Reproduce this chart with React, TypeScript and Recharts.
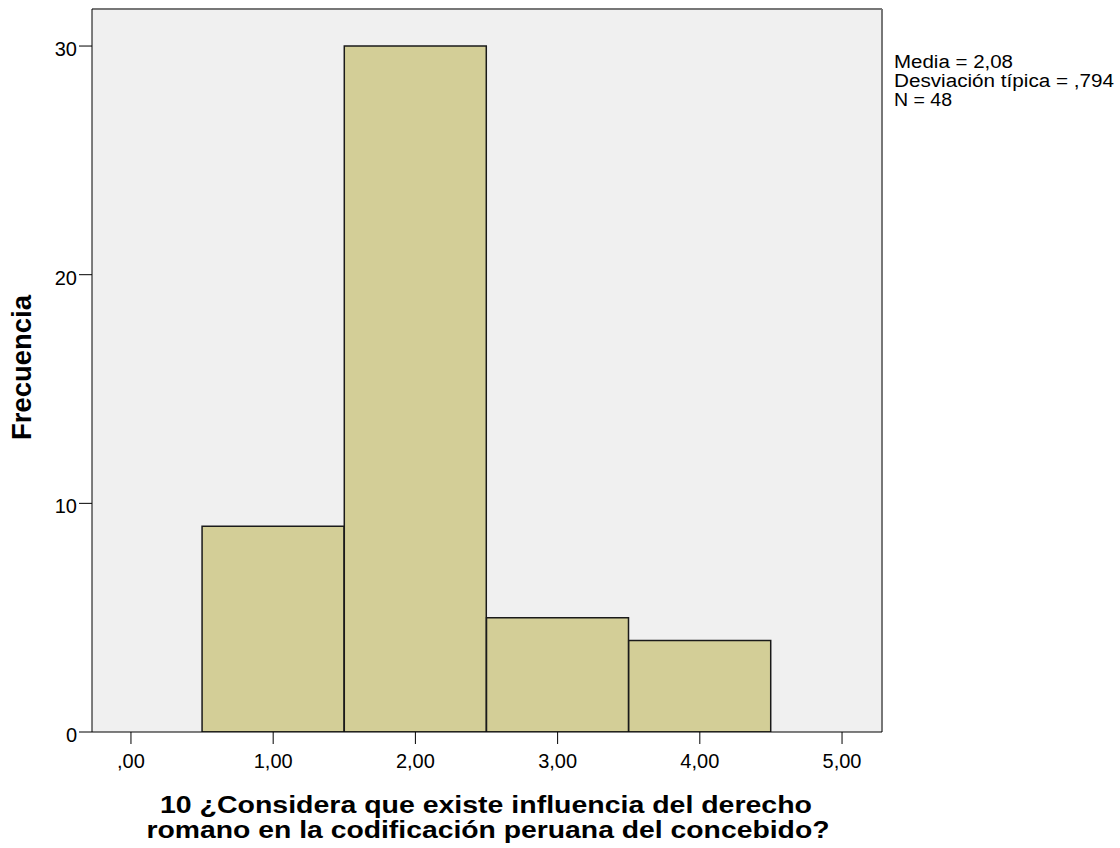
import { ComposedChart, Bar, XAxis, YAxis, CartesianGrid, Label, ReferenceLine } from "recharts";

// histogram bins (bin centre) and frequencies
const bins = [1, 2, 3, 4];
const counts = [9, 30, 5, 4];

const xTicks = [0, 1, 2, 3, 4, 5];
const xTickLabels = [",00", "1,00", "2,00", "3,00", "4,00", "5,00"];
const yTicks = [0, 10, 20, 30];

const xDomain = [-0.274, 5.281];
const yDomain = [0, 31.62];

const statLines = ["Media = 2,08", "Desviación típica = ,794", "N = 48"];
const xTitle = [
  "10 ¿Considera que existe influencia del derecho",
  "romano en la codificación peruana del concebido?",
];
const yTitle = "Frecuencia";

const data = bins.map((b, i) => ({ x: b, freq: counts[i] }));

const FONT = "'Liberation Sans', Arial, sans-serif";

const XTick = (props: any) => {
  const { x, y, payload } = props;
  const label = xTickLabels[xTicks.indexOf(payload.value)];
  return (
    <text x={x} y={y + 22} textAnchor="middle" fontSize={20} fontFamily={FONT} fill="#000">
      {label}
    </text>
  );
};

const YTick = (props: any) => {
  const { x, y, payload } = props;
  return (
    <text x={x} y={y + 10} textAnchor="end" fontSize={20} fontFamily={FONT} fill="#000">
      {payload.value}
    </text>
  );
};

const XTitle = () => (
  <g fontFamily={FONT} fontWeight="bold" fontSize={23} fill="#000">
    <text x={486} y={813} textAnchor="middle" textLength={652} lengthAdjust="spacingAndGlyphs">
      {xTitle[0]}
    </text>
    <text x={488} y={838} textAnchor="middle" textLength={683} lengthAdjust="spacingAndGlyphs">
      {xTitle[1]}
    </text>
  </g>
);

const YTitle = () => (
  <text
    x={0}
    y={0}
    transform="translate(31, 367.5) rotate(-90)"
    textAnchor="middle"
    fontFamily={FONT}
    fontWeight="bold"
    fontSize={27}
    fill="#000"
    textLength={145}
    lengthAdjust="spacingAndGlyphs"
  >
    {yTitle}
  </text>
);

const statWidths = [119, 220, 58];
const Stats = () => (
  <g fontFamily={FONT} fontSize={18} fill="#000">
    {statLines.map((s, i) => (
      <text key={s} x={894} y={68 + i * 19} textLength={statWidths[i]} lengthAdjust="spacingAndGlyphs">
        {s}
      </text>
    ))}
  </g>
);

export default function App() {
  return (
    <div style={{ position: "absolute", left: 0, top: 0, background: "#fff" }}>
      <ComposedChart
        width={1120}
        height={848}
        data={data}
        margin={{ top: 9, right: 238, left: 0, bottom: 0 }}
        barCategoryGap={0}
        barGap={0}
      >
        <CartesianGrid fill="#F0F0F0" horizontal={false} vertical={false} />
        <XAxis
          dataKey="x"
          type="number"
          domain={xDomain}
          ticks={xTicks}
          allowDataOverflow
          height={116}
          tickSize={12}
          stroke="#000"
          tick={<XTick />}
          interval={0}
        >
          <Label content={<XTitle />} />
        </XAxis>
        <YAxis
          type="number"
          domain={yDomain}
          ticks={yTicks}
          allowDataOverflow
          width={92}
          tickSize={13}
          stroke="#000"
          tick={<YTick />}
          interval={0}
        >
          <Label content={<YTitle />} />
        </YAxis>
        <ReferenceLine y={yDomain[1]} stroke="#777" strokeWidth={2} />
        <ReferenceLine x={xDomain[1]} stroke="#777" strokeWidth={2}>
          <Label content={<Stats />} />
        </ReferenceLine>
        <Bar
          dataKey="freq"
          fill="#D3CE97"
          stroke="#1a1a1a"
          strokeWidth={1.5}
          isAnimationActive={false}
        />
      </ComposedChart>
    </div>
  );
}
